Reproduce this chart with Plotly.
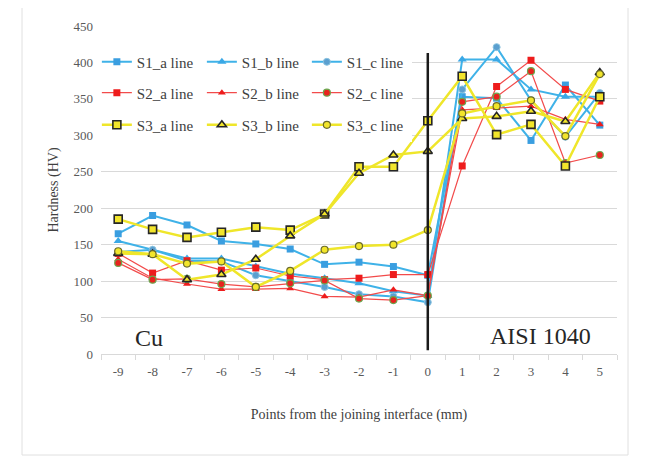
import plotly.graph_objects as go

points = ["-9", "-8", "-7", "-6", "-5", "-4", "-3", "-2", "-1", "0", "1", "2", "3", "4", "5"]

s1_a = [165, 190, 177, 155, 151, 144, 123, 126, 120, 108, 353, 351, 293, 369, 314]
s1_b = [155, 143, 131, 131, 120, 110, 104, 97, 86, 80, 404, 404, 363, 353, 353]
s1_c = [140, 143, 128, 127, 108, 100, 92, 82, 79, 71, 363, 421, 348, 298, 358]
s2_a = [138, 111, 128, 115, 118, 107, 102, 104, 109, 109, 258, 367, 403, 363, 347]
s2_b = [130, 104, 96, 89, 89, 90, 79, 78, 88, 80, 335, 337, 340, 322, 315]
s2_c = [125, 102, 103, 96, 92, 97, 101, 76, 74, 80, 346, 353, 388, 262, 273]
s3_a = [185, 171, 160, 167, 174, 170, 192, 257, 257, 320, 381, 301, 315, 258, 353]
s3_b = [138, 137, 102, 109, 130, 162, 192, 248, 273, 278, 323, 326, 333, 319, 386]
s3_c = [141, 137, 124, 127, 92, 114, 143, 148, 150, 170, 330, 340, 348, 299, 384]

y_ticks = [0, 50, 100, 150, 200, 250, 300, 350, 400, 450]

FONT = "Liberation Serif, Times New Roman, serif"
BLUE = "#3fb2e8"
RED = "#f24b4b"
YEL = "#efe62a"

series = [
    ("S1_a line", s1_a, BLUE, 2, dict(symbol="square", size=7, color="#3a9ee0"), "legend"),
    ("S1_b line", s1_b, BLUE, 2, dict(symbol="triangle-up", size=8, color="#3aa8e6"), "legend"),
    ("S1_c line", s1_c, BLUE, 2, dict(symbol="circle", size=7, color="#5b9fcf", line=dict(color="#8cc4e0", width=1)), "legend"),
    ("S2_a line", s2_a, RED, 1.2, dict(symbol="square", size=7, color="#ee1c1c"), "legend2"),
    ("S2_b line", s2_b, RED, 1.2, dict(symbol="triangle-up", size=7, color="#ee1c1c"), "legend2"),
    ("S2_c line", s2_c, RED, 1.2, dict(symbol="circle", size=7, color="#e8231e", line=dict(color="#6aa84f", width=1.2)), "legend2"),
    ("S3_a line", s3_a, YEL, 2.5, dict(symbol="square", size=8, color="#f2e52b", line=dict(color="#262626", width=1.6)), "legend3"),
    ("S3_b line", s3_b, YEL, 2.5, dict(symbol="triangle-up", size=8, color="#f2e52b", line=dict(color="#262626", width=1.6)), "legend3"),
    ("S3_c line", s3_c, YEL, 2.5, dict(symbol="circle", size=7, color="#f2e52b", line=dict(color="#6b6b2a", width=1.2)), "legend3"),
]

fig = go.Figure()
for name, vals, col, w, mk, lg in series:
    fig.add_trace(go.Scatter(
        x=points, y=vals, name=name, mode="lines+markers",
        line=dict(color=col, width=w), marker=mk, legend=lg,
    ))

def leg(y):
    return dict(
        orientation="h", x=-0.008, y=y, xanchor="left", yanchor="middle",
        entrywidth=60, entrywidthmode="pixels", bgcolor="white",
        font=dict(family=FONT, size=15, color="#404040"),
        tracegroupgap=0, itemwidth=30,
    )

fig.update_layout(
    width=645, height=461,
    margin=dict(l=93, r=36, t=18, b=115, autoexpand=False),
    paper_bgcolor="white", plot_bgcolor="white",
    font=dict(family=FONT, color="#595959"),
    showlegend=True,
    legend=leg(0.890), legend2=leg(0.796), legend3=leg(0.698),
    xaxis=dict(
        type="category", categoryorder="array", categoryarray=points,
        range=[-0.5, len(points) - 0.5],
        tickson="boundaries", ticks="outside", ticklen=5, tickcolor="#d9d9d9",
        showline=True, linecolor="#d9d9d9", linewidth=1, showgrid=False,
        automargin=False, ticklabelstandoff=5,
        tickfont=dict(family=FONT, size=13, color="#595959"),
        title=dict(text="Points from the joining interface (mm)", standoff=31,
                   font=dict(family=FONT, size=14, color="#404040")),
    ),
    yaxis=dict(
        range=[0, 450], tickvals=y_ticks, showgrid=True, gridcolor="#d9d9d9",
        gridwidth=1, zeroline=False, showline=False, ticks="",
        automargin=False, ticklabelstandoff=7,
        tickfont=dict(family=FONT, size=13, color="#595959"),
        title=dict(text="Hardness (HV)", standoff=11,
                   font=dict(family=FONT, size=14, color="#404040")),
    ),
    shapes=[
        dict(type="line", xref="x", yref="y", x0=9, x1=9, y0=5, y1=413,
             line=dict(color="#1a1a1a", width=2.5), layer="above"),
        dict(type="rect", xref="paper", yref="paper",
             x0=-79/516, x1=1.0 + 11/516, y0=-101/328, y1=1.0 + 23/328,
             line=dict(color="#e0e0e0", width=1), layer="below"),
    ],
    annotations=[
        dict(text="Cu", x=0.9, y=22, xref="x", yref="y", showarrow=False,
             font=dict(family=FONT, size=24, color="#262626")),
        dict(text="AISI 1040", x=12.29, y=25, xref="x", yref="y", showarrow=False,
             font=dict(family=FONT, size=24, color="#262626")),
    ],
)

fig.write_html("out.html")
